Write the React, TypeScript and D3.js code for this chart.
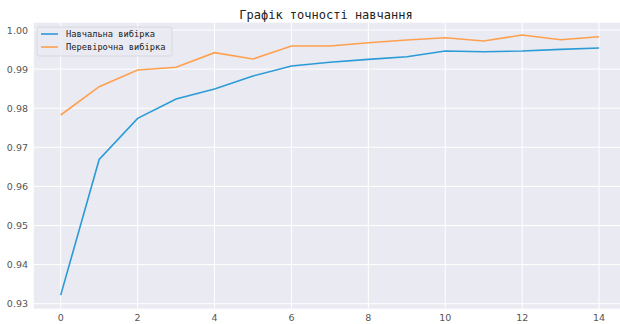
import React from "react";
import * as d3 from "d3";

const epochs = [0, 1, 2, 3, 4, 5, 6, 7, 8, 9, 10, 11, 12, 13, 14];
const trainAcc = [0.9322, 0.9669, 0.9774, 0.98235, 0.9849, 0.98824, 0.99079, 0.99174, 0.9925, 0.99318, 0.99463, 0.99445, 0.99463, 0.99506, 0.9954];
const valAcc = [0.97826, 0.9855, 0.98977, 0.99046, 0.9942, 0.99258, 0.99591, 0.99591, 0.99675, 0.99744, 0.99803, 0.99719, 0.99872, 0.99752, 0.99829];
const xTicks = [0, 2, 4, 6, 8, 10, 12, 14];
const yTicks = [0.93, 0.94, 0.95, 0.96, 0.97, 0.98, 0.99, 1.0];
const seriesNames = ["Навчальна вибірка", "Перевірочна вибірка"];
const title = "Графік точності навчання";

const W = 620, H = 324;
const left = 33.8, right = 626, top = 22.7, bottom = 308.7;

export default function App() {
  const x = d3.scaleLinear().domain([-0.7, 14.7]).range([left, right]);
  const y = d3.scaleLinear().domain([0.92872, 1.00187]).range([bottom, top]);
  const line = (vals: number[]) =>
    d3.line<number>().x((_, i) => x(epochs[i])).y((v) => y(v))(vals) || "";
  const blue = "#2b9bd6";
  const orange = "#ffa04f";
  const mono = "'DejaVu Sans Mono', monospace";
  return (
    <svg width={W} height={H} style={{ position: "absolute", left: 0, top: 0, background: "#fff" }}>
      <rect x={left} y={top} width={right - left} height={bottom - top} fill="#eaeaf2" />
      {xTicks.map((t) => (
        <line key={"gx" + t} x1={x(t)} x2={x(t)} y1={top} y2={bottom} stroke="#fff" strokeWidth={1} />
      ))}
      {yTicks.map((t) => (
        <line key={"gy" + t} x1={left} x2={right} y1={y(t)} y2={y(t)} stroke="#fff" strokeWidth={1} />
      ))}
      {xTicks.map((t) => (
        <text key={"tx" + t} x={x(t)} y={324 - 3} textAnchor="middle" fontSize={9.5} fill="#555" fontFamily="'DejaVu Sans', sans-serif">{t}</text>
      ))}
      {yTicks.map((t) => (
        <text key={"ty" + t} x={28} y={y(t) + 3.5} textAnchor="end" fontSize={9.5} fill="#555" fontFamily="'DejaVu Sans', sans-serif">{t.toFixed(2)}</text>
      ))}
      <path d={line(trainAcc)} fill="none" stroke={blue} strokeWidth={1.6} />
      <path d={line(valAcc)} fill="none" stroke={orange} strokeWidth={1.6} />
      <text x={326} y={19} textAnchor="middle" fontSize={12} fill="#222" fontFamily={mono}>{title}</text>
      <g>
        <rect x={37} y={27} width={135} height={29} rx={2} fill="#eaeaf2" fillOpacity={0.85} stroke="#d4d4dc" strokeWidth={0.8} />
        {seriesNames.map((n, i) => (
          <g key={n}>
            <line x1={41} x2={58} y1={34 + i * 13} y2={34 + i * 13} stroke={i === 0 ? blue : orange} strokeWidth={1.6} />
            <text x={66} y={37 + i * 13} fontSize={8.7} fill="#222" fontFamily={mono}>{n}</text>
          </g>
        ))}
      </g>
    </svg>
  );
}
